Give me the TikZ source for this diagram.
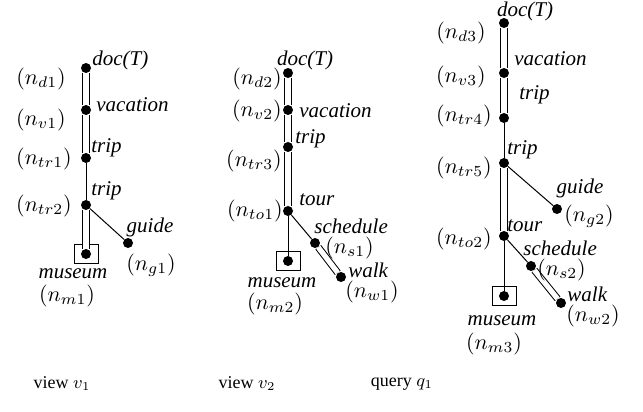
\documentclass[tikz,border=0pt]{standalone}
\usepackage{fix-cm}
\usepackage{fontspec}
\setmainfont{Liberation Serif}

\begin{document}
\begin{tikzpicture}[x=0.5pt, y=-0.5pt,
    dot/.style={circle,fill=black,inner sep=0pt,minimum size=5pt},
    mbox/.style={draw,inner sep=0pt,minimum width=12pt,minimum height=9.5pt,line width=0.5pt},
    lab/.style={font=\fontsize{10.5}{12}\selectfont\itshape,inner sep=0pt},
    idx/.style={font=\fontsize{11}{13}\selectfont,inner sep=0pt},
    desc/.style={double,double distance=2.6pt,line width=0.5pt},
    child/.style={line width=0.5pt},
    capt/.style={font=\fontsize{9}{11}\selectfont,inner sep=0pt}]
  \useasboundingbox (0,0) rectangle (643,412);

  % view v1
  \node[dot] (d1) at (86,68) {};
  \node[dot] (v1) at (86,110) {};
  \node[dot] (tr1) at (86,158) {};
  \node[dot] (tr2) at (86,205) {};
  \node[dot] (g1) at (128,243) {};
  \node[dot] (m1) at (86,254) {};
  \node[mbox] (m1box) at (m1) {};
  \draw[desc] (d1) -- (v1);
  \draw[desc] (v1) -- (tr1);
  \draw[child] (tr1) -- (tr2);
  \draw[desc] (tr2) -- (m1);
  \draw[child] (tr2) -- (g1);
  \node[lab,anchor=west] (d1t) at (92,60) {doc(T)};
  \node[idx,anchor=east] (d1i) at (66,79) {$(n_{d1})$};
  \node[lab,anchor=west] (v1t) at (96,105) {vacation};
  \node[idx,anchor=east] (v1i) at (66,120) {$(n_{v1})$};
  \node[lab,anchor=west] (tr1t) at (91,148) {trip};
  \node[idx,anchor=east] (tr1i) at (72,159) {$(n_{tr1})$};
  \node[lab,anchor=west] (tr2t) at (91,191) {trip};
  \node[idx,anchor=east] (tr2i) at (72,206) {$(n_{tr2})$};
  \node[lab] (g1t) at (150,227) {guide};
  \node[idx] (g1i) at (151,265) {$(n_{g1})$};
  \node[lab] (m1t) at (73,274) {museum};
  \node[idx] (m1i) at (67,296) {$(n_{m1})$};

  % view v2
  \node[dot] (d2) at (288,73) {};
  \node[dot] (v2) at (288,110) {};
  \node[dot] (tr3) at (288,147) {};
  \node[dot] (to1) at (288,211) {};
  \node[dot] (s1) at (315,243) {};
  \node[dot] (w1) at (341,277) {};
  \node[dot] (m2) at (288,261) {};
  \node[mbox] (m2box) at (m2) {};
  \draw[desc] (d2) -- (v2);
  \draw[desc] (v2) -- (tr3);
  \draw[desc] (tr3) -- (to1);
  \draw[child] (to1) -- (m2);
  \draw[child] (to1) -- (s1);
  \draw[desc] (s1) -- (w1);
  \node[lab] (d2t) at (305,60) {doc(T)};
  \node[idx,anchor=east] (d2i) at (282,79) {$(n_{d2})$};
  \node[lab,anchor=west] (v2t) at (299,111) {vacation};
  \node[idx,anchor=east] (v2i) at (282,111) {$(n_{v2})$};
  \node[lab,anchor=west] (tr3t) at (295,139) {trip};
  \node[idx,anchor=east] (tr3i) at (282,161) {$(n_{tr3})$};
  \node[lab,anchor=west] (to1t) at (299,200) {tour};
  \node[idx,anchor=east] (to1i) at (283,211) {$(n_{to1})$};
  \node[lab,anchor=west] (s1t) at (314,226) {schedule};
  \node[idx,anchor=west] (s1i) at (325,248) {$(n_{s1})$};
  \node[lab,anchor=west] (w1t) at (348,270) {walk};
  \node[idx,anchor=west] (w1i) at (345,292) {$(n_{w1})$};
  \node[lab] (m2t) at (282,283) {museum};
  \node[idx] (m2i) at (275,304) {$(n_{m2})$};

  % query q1
  \node[dot] (d3) at (504,23) {};
  \node[dot] (v3) at (504,73) {};
  \node[dot] (tr4) at (504,118) {};
  \node[dot] (tr5) at (504,163) {};
  \node[dot] (g2) at (557,209) {};
  \node[dot] (to2) at (504,236) {};
  \node[dot] (s2) at (531,266) {};
  \node[dot] (w2) at (561,303) {};
  \node[dot] (m3) at (504,296) {};
  \node[mbox] (m3box) at (m3) {};
  \draw[desc] (d3) -- (v3);
  \draw[desc] (v3) -- (tr4);
  \draw[child] (tr4) -- (tr5);
  \draw[desc] (tr5) -- (to2);
  \draw[child] (tr5) -- (g2);
  \draw[child] (to2) -- (m3);
  \draw[child] (to2) -- (s2);
  \draw[desc] (s2) -- (w2);
  \node[lab] (d3t) at (525,11) {doc(T)};
  \node[idx,anchor=east] (d3i) at (486,33) {$(n_{d3})$};
  \node[lab,anchor=west] (v3t) at (514,59) {vacation};
  \node[idx,anchor=east] (v3i) at (486,77) {$(n_{v3})$};
  \node[lab,anchor=west] (tr4t) at (519,95) {trip};
  \node[idx,anchor=east] (tr4i) at (492,116) {$(n_{tr4})$};
  \node[lab,anchor=west] (tr5t) at (507,150) {trip};
  \node[idx,anchor=east] (tr5i) at (492,168) {$(n_{tr5})$};
  \node[lab] (g2t) at (580,188) {guide};
  \node[idx,anchor=west] (g2i) at (564,216) {$(n_{g2})$};
  \node[lab,anchor=west] (to2t) at (507,226) {tour};
  \node[idx,anchor=east] (to2i) at (492,239) {$(n_{to2})$};
  \node[lab,anchor=west] (s2t) at (523,248) {schedule};
  \node[idx,anchor=west] (s2i) at (537,270) {$(n_{s2})$};
  \node[lab,anchor=west] (w2t) at (567,294) {walk};
  \node[idx,anchor=west] (w2i) at (566,316) {$(n_{w2})$};
  \node[lab] (m3t) at (502,321) {museum};
  \node[idx] (m3i) at (494,344) {$(n_{m3})$};

  % captions
  \node[capt] (cv1) at (62,384) {view $v_1$};
  \node[capt] (cv2) at (247,384) {view $v_2$};
  \node[capt] (cq1) at (402,384) {query $q_1$};
\end{tikzpicture}
\end{document}
